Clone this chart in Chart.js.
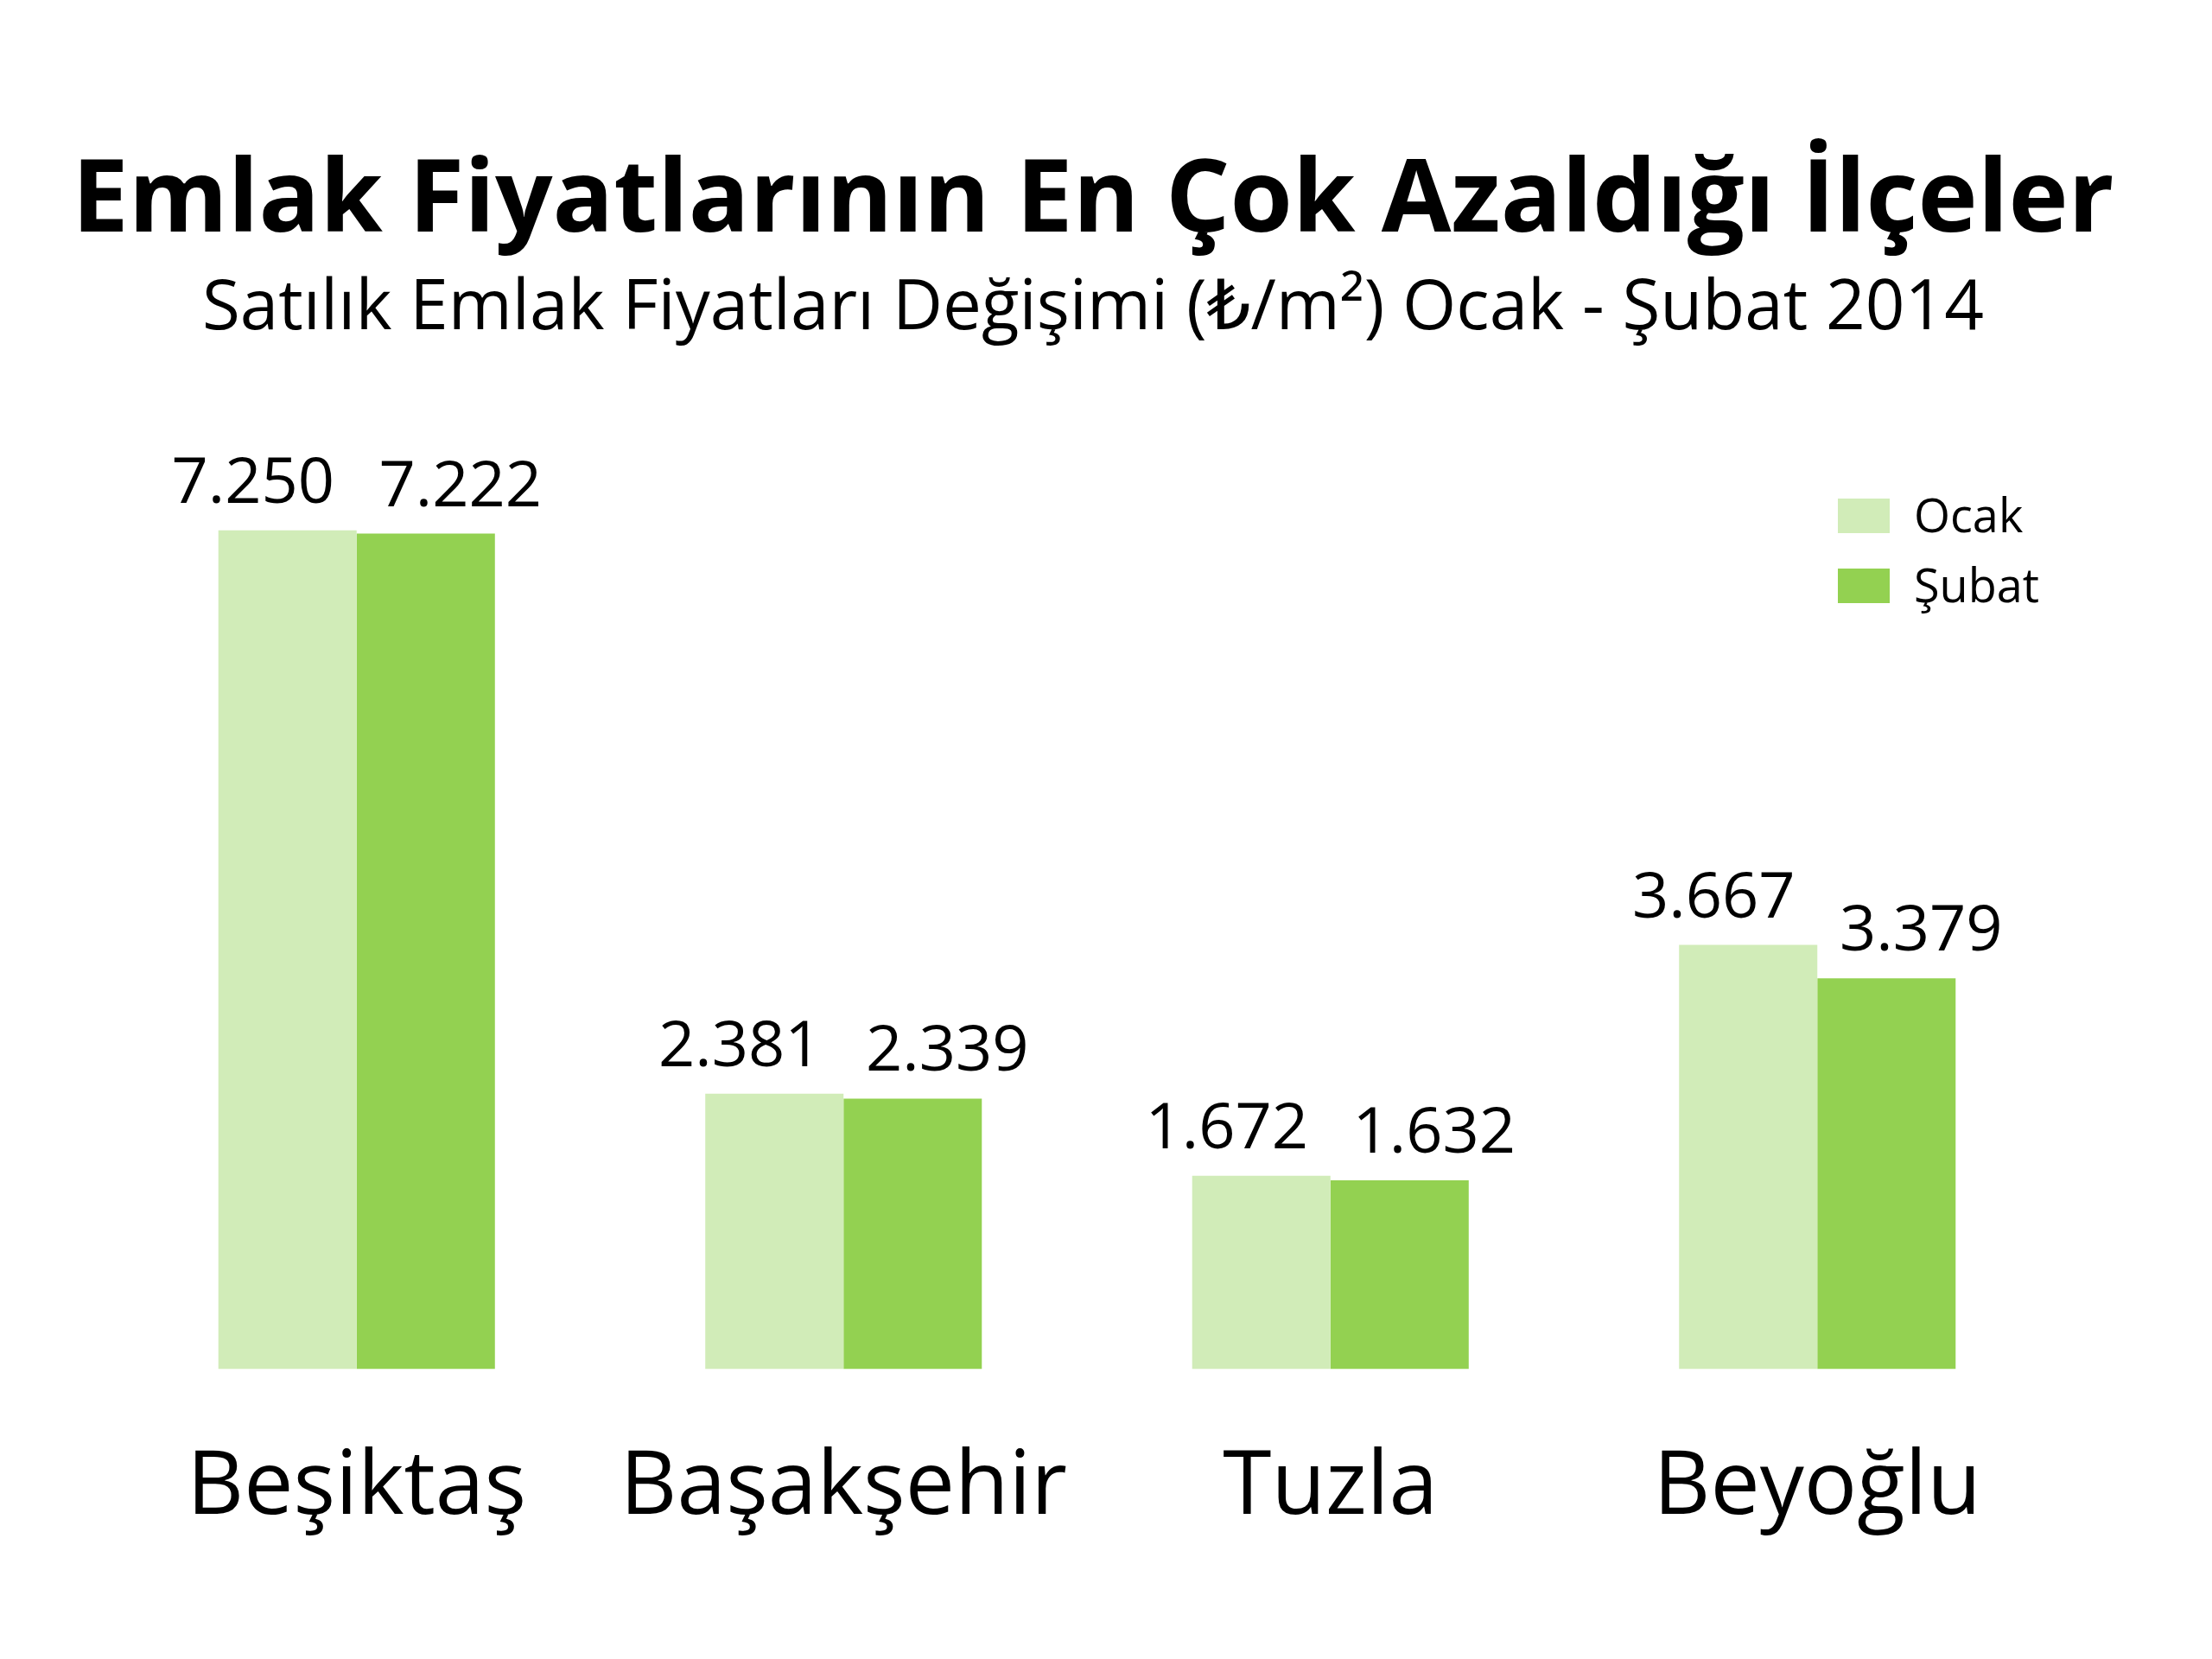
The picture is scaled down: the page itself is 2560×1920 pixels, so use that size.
<!DOCTYPE html>
<html lang="tr">
<head>
  <meta charset="UTF-8">
  <title>Emlak Fiyatlarının En Çok Azaldığı İlçeler</title>
  <script src="https://cdn.jsdelivr.net/npm/chart.js"></script>
  <style>
    html, body { margin: 0; padding: 0; background: #fff; }
    #wrap { width: 2560px; height: 1920px; position: relative; }
  </style>
</head>
<body>
  <div id="wrap"><canvas id="chart"></canvas></div>
  <script>
    const districts = ['Beşiktaş', 'Başakşehir', 'Tuzla', 'Beyoğlu'];
    const ocakValues = [7250, 2381, 1672, 3667];
    const subatValues = [7222, 2339, 1632, 3379];
    const seriesLabels = ['Ocak', 'Şubat'];
    const seriesColors = ['#d1ecb8', '#93d151'];
    const FONT = '"Open Sans", "DejaVu Sans", sans-serif';

    // thousands with a dot, as in the original
    const fmt = v => String(v).replace(/\B(?=(\d{3})+(?!\d))/g, '.');

    const valueLabels = {
      id: 'valueLabels',
      afterDatasetsDraw(chart) {
        const ctx = chart.ctx;
        ctx.save();
        ctx.font = '74px ' + FONT;
        ctx.fillStyle = '#000';
        ctx.textAlign = 'center';
        ctx.textBaseline = 'alphabetic';
        chart.data.datasets.forEach((ds, i) => {
          const shift = i === 0 ? -40 : 40;
          chart.getDatasetMeta(i).data.forEach((bar, j) => {
            ctx.fillText(fmt(ds.data[j]), bar.x + shift, bar.y - 32);
          });
        });
        ctx.restore();
      }
    };

    const sideLegend = {
      id: 'sideLegend',
      afterDraw(chart) {
        const ctx = chart.ctx;
        ctx.save();
        ctx.font = '54px ' + FONT;
        ctx.textBaseline = 'alphabetic';
        chart.data.datasets.forEach((ds, i) => {
          const top = 577 + i * 81;
          ctx.fillStyle = ds.backgroundColor;
          ctx.fillRect(2127, top, 60, 40);
          ctx.fillStyle = '#000';
          ctx.fillText(ds.label, 2215, top + 39);
        });
        ctx.restore();
      }
    };

    // invisible side axes only reserve room, so the title keeps the full width
    const hiddenAxis = (pos, w) => ({
      position: pos,
      min: 0,
      max: 8000,
      grid: { display: false, drawTicks: false },
      border: { display: false },
      ticks: { display: false },
      afterFit: s => { s.width = w; }
    });

    new Chart(document.getElementById('chart'), {
      type: 'bar',
      data: {
        labels: districts,
        datasets: [
          { label: seriesLabels[0], data: ocakValues, backgroundColor: seriesColors[0] },
          { label: seriesLabels[1], data: subatValues, backgroundColor: seriesColors[1] }
        ]
      },
      options: {
        responsive: true,
        maintainAspectRatio: false,
        devicePixelRatio: 1,
        animation: false,
        layout: { padding: { left: 0, right: 30, top: 0, bottom: 59 } },
        datasets: { bar: { barPercentage: 1.0, categoryPercentage: 0.568 } },
        scales: {
          x: {
            grid: { display: false, drawTicks: false },
            border: { display: false },
            ticks: { color: '#000', padding: 77, font: { family: FONT, size: 102 } }
          },
          y: hiddenAxis('left', 131),
          yRight: hiddenAxis('right', 145)
        },
        plugins: {
          legend: { display: false },
          tooltip: { enabled: false },
          title: {
            display: true,
            text: 'Emlak Fiyatlarının En Çok Azaldığı İlçeler',
            color: '#000',
            font: { family: FONT, size: 117, weight: 'bold' },
            padding: { top: 164, bottom: 6 }
          },
          subtitle: {
            display: true,
            text: 'Satılık Emlak Fiyatları Değişimi (₺/m²) Ocak - Şubat 2014',
            color: '#000',
            font: { family: FONT, size: 80 },
            padding: { top: 0, bottom: 107 }
          }
        }
      },
      plugins: [valueLabels, sideLegend]
    });
  </script>
</body>
</html>
